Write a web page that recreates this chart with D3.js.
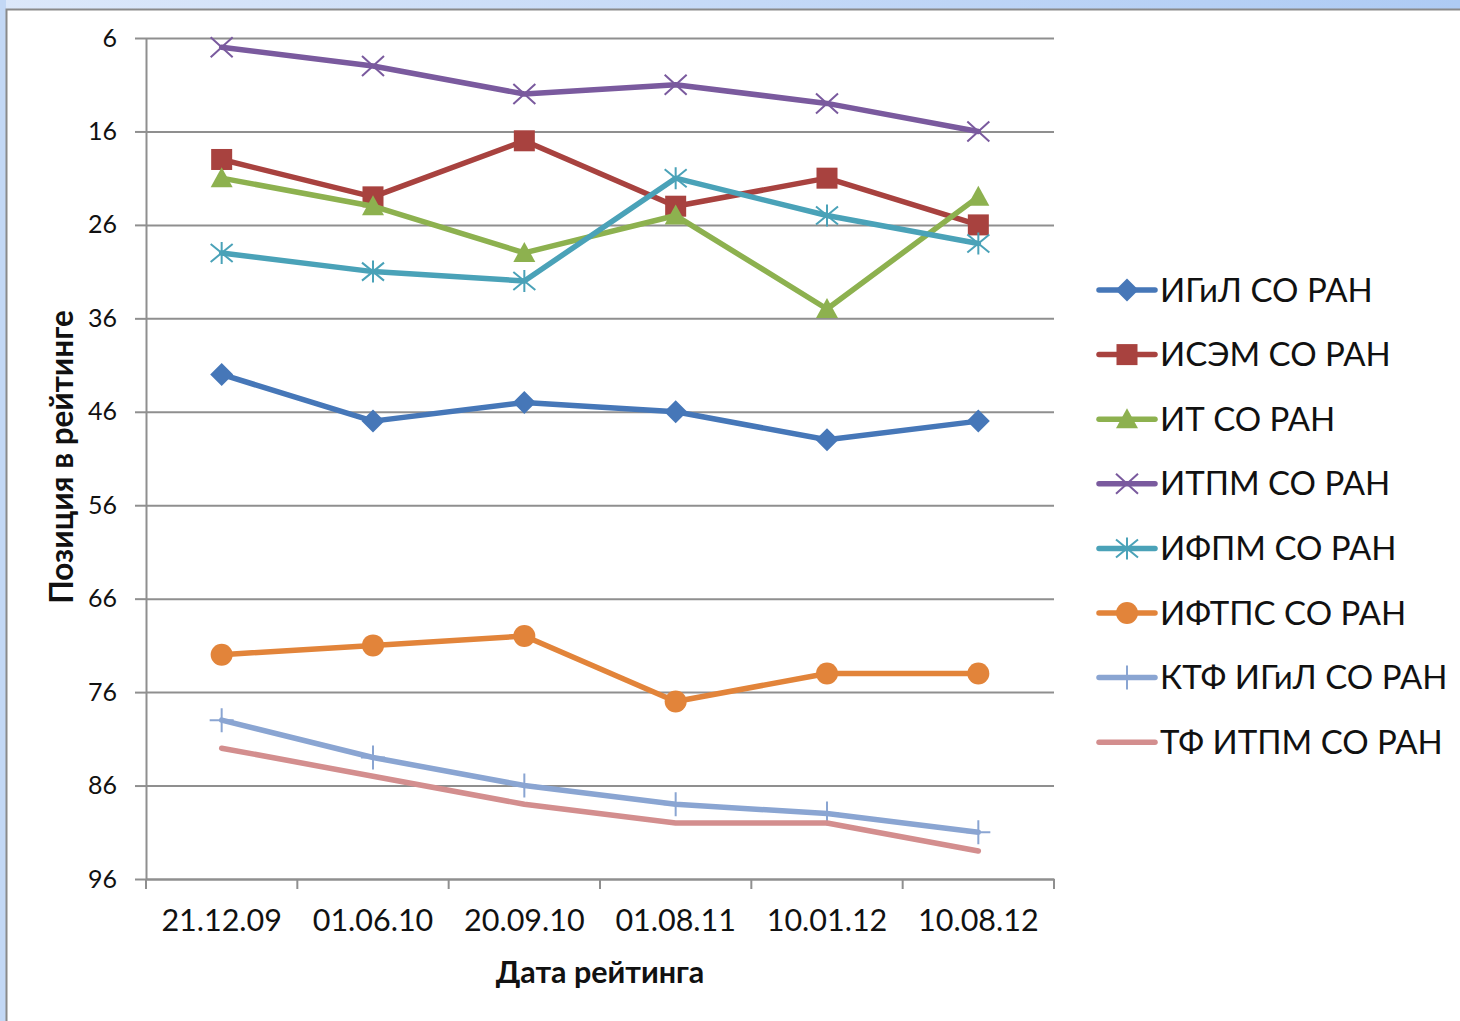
<!DOCTYPE html>
<html><head><meta charset="utf-8">
<script src="https://cdn.jsdelivr.net/npm/d3@7"></script>
<style>
html,body{margin:0;padding:0;background:#fff;}
svg{display:block;}
text{font-family:Lato,"Open Sans",sans-serif;fill:#111;}
</style></head>
<body><svg id="c" width="1460" height="1021"></svg>
<script>
const categories = ["21.12.09","01.06.10","20.09.10","01.08.11","10.01.12","10.08.12"];
const seriesNames = ["ИГиЛ СО РАН","ИСЭМ СО РАН","ИТ СО РАН","ИТПМ СО РАН","ИФПМ СО РАН","ИФТПС СО РАН","КТФ ИГиЛ СО РАН","ТФ ИТПМ СО РАН"];
const igil  = [42,47,45,46,49,47];
const isem  = [19,23,17,24,21,26];
const itSer = [21,24,29,25,35,23];
const itpm  = [7,9,12,11,13,16];
const ifpm  = [29,31,32,21,25,28];
const iftps = [72,71,70,77,74,74];
const ktf   = [79,83,86,88,89,91];
const tf    = [82,85,88,90,90,93];
const yTicks = [6,16,26,36,46,56,66,76,86,96];
const yTitle = "Позиция в рейтинге";
const xTitle = "Дата рейтинга";

const seriesValues = [igil,isem,itSer,itpm,ifpm,iftps,ktf,tf];
const colors = ["#4677b8","#a8423f","#8db14f","#7a5a9e","#4aa2b8","#e2843a","#8aa5d2","#d38e8e"];
const markerTypes = ["diamond","square","triangle","x","star","circle","plus","none"];

const svg = d3.select("#c");
const defs = svg.append("defs");
const grad = defs.append("linearGradient").attr("id","bg").attr("x1","0").attr("x2","1").attr("y1","0").attr("y2","0");
grad.append("stop").attr("offset","0").attr("stop-color","#dce8fa");
grad.append("stop").attr("offset","1").attr("stop-color","#aecbf4");
svg.append("rect").attr("x",0).attr("y",0).attr("width",1460).attr("height",1021).attr("fill","url(#bg)");
svg.append("rect").attr("x",0).attr("y",0).attr("width",6).attr("height",1021).attr("fill","#c3d8f5");
svg.append("rect").attr("x",6.5).attr("y",9.5).attr("width",1470).attr("height",1030).attr("fill","#fff").attr("stroke","#8a8a8a").attr("stroke-width",2);

const L=146, R=1054, T=38, B=879;
const x = d3.scaleBand().domain(categories).range([L,R]);
const y = d3.scaleLinear().domain([6,96]).range([T,B]);
const cx = c => x(c) + x.bandwidth()/2;

svg.append("g").attr("transform",`translate(${L},0)`)
  .call(d3.axisLeft(y).tickValues(yTicks).tickSize(-(R-L)).tickFormat(""))
  .call(g=>{g.select(".domain").remove(); g.selectAll("line").attr("stroke","#8f8f8f").attr("stroke-width",2);});
svg.append("g").attr("transform",`translate(${L},0)`)
  .call(d3.axisLeft(y).tickValues(yTicks).tickSize(11).tickSizeOuter(0).tickPadding(18))
  .call(g=>{
    g.select(".domain").attr("stroke","#8f8f8f").attr("stroke-width",2);
    g.selectAll("line").attr("stroke","#8f8f8f").attr("stroke-width",2);
    g.selectAll("text").style("font-size","25px").attr("fill","#111").style("font-family","Lato,sans-serif");
  });
svg.append("g").attr("transform",`translate(0,${B})`)
  .call(d3.axisBottom(x).tickSize(0).tickPadding(30))
  .call(g=>{
    g.select(".domain").attr("stroke","#8f8f8f").attr("stroke-width",2);
    g.selectAll("text").style("font-size","30.5px").attr("fill","#111").style("font-family","Lato,sans-serif");
  });
const bounds = categories.map(c=>x(c)).concat([R]);
svg.append("g").selectAll("line").data(bounds).join("line")
  .attr("x1",d=>d).attr("x2",d=>d).attr("y1",B).attr("y2",B+10)
  .attr("stroke","#8f8f8f").attr("stroke-width",2);

svg.append("text").attr("x",600).attr("y",983).attr("text-anchor","middle")
  .style("font-size","30.5px").style("font-weight","bold").text(xTitle);
svg.append("text").attr("transform","translate(73,457) rotate(-90)").attr("text-anchor","middle")
  .style("font-size","31.5px").style("font-weight","bold").text(yTitle);

function drawMarker(g, type, px, py, color){
  const s = 11.5;
  if(type==="diamond"){
    g.append("path").attr("d",`M${px},${py-s}L${px+s},${py}L${px},${py+s}L${px-s},${py}Z`).attr("fill",color);
  } else if(type==="square"){
    g.append("rect").attr("x",px-10.5).attr("y",py-10.5).attr("width",21).attr("height",21).attr("fill",color);
  } else if(type==="triangle"){
    g.append("path").attr("d",`M${px},${py-11}L${px+11},${py+9}L${px-11},${py+9}Z`).attr("fill",color);
  } else if(type==="circle"){
    g.append("circle").attr("cx",px).attr("cy",py).attr("r",11).attr("fill",color);
  } else if(type==="x"){
    g.append("path").attr("d",`M${px-11},${py-10}L${px+11},${py+10}M${px-11},${py+10}L${px+11},${py-10}`).attr("stroke",color).attr("stroke-width",2).attr("fill","none");
  } else if(type==="star"){
    g.append("path").attr("d",`M${px-11},${py-9}L${px+11},${py+9}M${px-11},${py+9}L${px+11},${py-9}M${px},${py-11}L${px},${py+11}`).attr("stroke",color).attr("stroke-width",2).attr("fill","none");
  } else if(type==="plus"){
    g.append("path").attr("d",`M${px-12},${py}L${px+12},${py}M${px},${py-12}L${px},${py+12}`).attr("stroke",color).attr("stroke-width",2).attr("fill","none");
  }
}

const line = d3.line().x((d,i)=>cx(categories[i])).y(d=>y(d));
seriesValues.forEach((vals,si)=>{
  const g = svg.append("g");
  g.append("path").attr("d",line(vals)).attr("fill","none").attr("stroke",colors[si])
    .attr("stroke-width",5.5).attr("stroke-linejoin","round").attr("stroke-linecap","round");
  vals.forEach((v,i)=>drawMarker(g, markerTypes[si], cx(categories[i]), y(v), colors[si]));
});

const legY0 = 290, legStep = 64.6;
seriesNames.forEach((name,i)=>{
  const g = svg.append("g");
  const ly = legY0 + i*legStep;
  g.append("line").attr("x1",1099).attr("x2",1155).attr("y1",ly).attr("y2",ly)
    .attr("stroke",colors[i]).attr("stroke-width",5.5).attr("stroke-linecap","round");
  drawMarker(g, markerTypes[i], 1127, ly, colors[i]);
  g.append("text").attr("x",1160).attr("y",ly+11.5).style("font-size","33px").text(name);
});
</script></body></html>
